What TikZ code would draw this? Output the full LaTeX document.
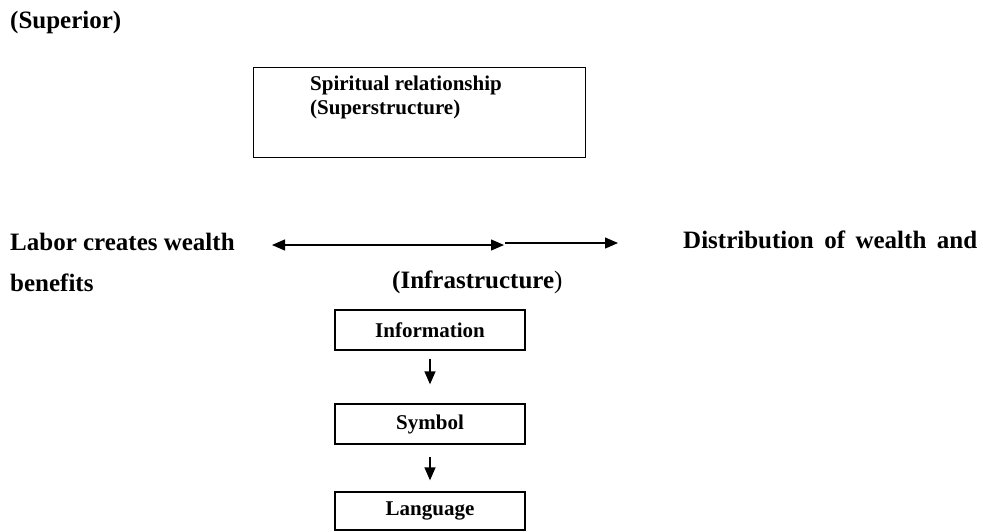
\documentclass[tikz,border=0pt]{standalone}
\usepackage{fontspec}
\setmainfont{Liberation Serif}
\usepackage{tikz}
\usetikzlibrary{arrows.meta}

\begin{document}
\begin{tikzpicture}[x=1pt, y=-1pt,
    >={Triangle[length=13pt, width=11pt]},
    etiquette/.style={font=\fontsize{25}{30}\selectfont\bfseries, inner sep=0pt, anchor=west},
    boite/.style={draw, line width=1.3pt, minimum width=190pt, minimum height=40pt, inner sep=0pt,
        font=\fontsize{21}{24}\selectfont\bfseries},
    fleche/.style={->, line width=1.3pt}]
                % Cadre de l'image
                \useasboundingbox (0,0) rectangle (983,531);

                % Niveau supérieur
                \node[etiquette] (superieur) at (10,22) {(Superior)};
                \node[draw, line width=1.3pt, minimum width=332pt, minimum height=90pt, anchor=north west]
                    (superstructure) at (253,67) {};
                \node[anchor=north west, align=left, inner sep=0pt, font=\fontsize{21}{24}\selectfont\bfseries]
                    (spirituel) at (310,76) {Spiritual relationship\\(Superstructure)};

                % Ligne du travail et de la richesse
                \node[etiquette] (travail) at (10,242) {Labor creates wealth};
                \node[etiquette] (benefices) at (10,283) {benefits};
                \node[etiquette] (distribution) at (683,240)
                    {\makebox[294pt][s]{Distribution of wealth and}};
                \node[etiquette] (infrastructure) at (392,282) {(Infrastructure{\mdseries )}};

                % Flèches horizontales
                \coordinate (gauche) at (272,245);
                \coordinate (milieu) at (504,245);
                \coordinate (depart) at (505,243);
                \coordinate (droite) at (618,243);
                \draw[fleche, <->] (gauche) -- (milieu);
                \draw[fleche] (depart) -- (droite);

                % Chaîne information - symbole - langage
                \node[boite] (information) at (430,330) {Information};
                \node[boite] (symbole) at (430,424) {Symbol};
                \node[boite, minimum height=38pt] (langage) at (430,511) {Language};
                \draw[fleche, shorten <=8pt, shorten >=19pt] (information) -- (symbole);
                \draw[fleche, shorten <=12pt, shorten >=11pt] (symbole) -- (langage);
\end{tikzpicture}
\end{document}
